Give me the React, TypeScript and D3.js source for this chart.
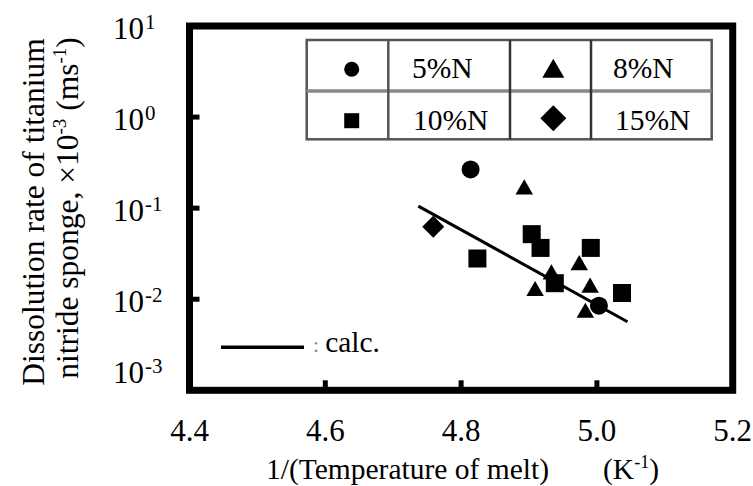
import React from "react";
import * as d3 from "d3";

// values
const seriesNames = ["5%N", "8%N", "10%N", "15%N"];
const n5x = [4.814, 5.003];
const n5y = [0.266, 0.00849];
const n8x = [4.893, 4.974, 4.933, 4.909, 4.99, 4.983];
const n8y = [0.171, 0.0252, 0.02, 0.0131, 0.0143, 0.00757];
const n10x = [4.824, 4.904, 4.917, 4.991, 4.938, 5.037];
const n10y = [0.028, 0.0518, 0.0366, 0.0366, 0.015, 0.0117];
const n15x = [4.759];
const n15y = [0.0624];
const calcX = [4.737, 5.045];
const calcY = [0.1051, 0.00566];
const xTicks = [4.4, 4.6, 4.8, 5.0, 5.2];
const yTickExp = [1, 0, -1, -2, -3];

const W = 753, H = 486;
const FONT = "'Liberation Serif', 'Times New Roman', serif";
const box = { left: 189.5, right: 732.7, top: 26, bottom: 390.3 };

// marker shape for each series: plot width and legend width
const shapes = [
  { type: d3.symbolCircle, w: 18, lw: 15 },
  { type: d3.symbolTriangle, w: 17.5, lw: 22 },
  { type: d3.symbolSquare, w: 18, lw: 15 },
  { type: d3.symbolSquare, w: 22, lw: 26, rot: true },
];

function symbolPath(i: number, w: number) {
  const s = shapes[i];
  let size;
  if (s.type === d3.symbolCircle) size = Math.PI * (w / 2) * (w / 2);
  else if (s.type === d3.symbolTriangle) size = (w * w * Math.sqrt(3)) / 4;
  else if (s.rot) size = (w / Math.SQRT2) * (w / Math.SQRT2);
  else size = w * w;
  return d3.symbol().type(s.type).size(size)() as string;
}

function Marker({ i, cx, cy, w }: { i: number; cx: number; cy: number; w: number }) {
  const s = shapes[i];
  // triangle: move centroid so the box centre sits on the point
  const dy = s.type === d3.symbolTriangle ? w / (4 * Math.sqrt(3)) : 0;
  const rot = s.rot ? " rotate(45)" : "";
  return <path d={symbolPath(i, w)} transform={`translate(${cx},${cy + dy})${rot}`} fill="#000" />;
}

export default function App() {
  const x = d3.scaleLinear().domain([4.4, 5.2]).range([box.left, box.right]);
  const y = d3.scaleLog().domain([1e-3, 10]).range([box.bottom, box.top]);

  const series = [
    { xs: n5x, ys: n5y },
    { xs: n8x, ys: n8y },
    { xs: n10x, ys: n10y },
    { xs: n15x, ys: n15y },
  ];

  const calcLine = d3
    .line<number>()
    .x((d) => x(d))
    .y((d, i) => y(calcY[i]))(calcX) as string;

  // legend table
  const lg = { x0: 306.7, x1: 388.3, x2: 510, x3: 591, x4: 711.7, y0: 40, y1: 91, y2: 139.3 };
  const legendCells = [
    { mx: 351.7, my: 69.3, tx: 412, ty: 78 },
    { mx: 553.3, my: 68.3, tx: 613, ty: 78 },
    { mx: 351.7, my: 120.7, tx: 413, ty: 130 },
    { mx: 553.3, my: 118.3, tx: 615, ty: 130 },
  ];

  return (
    <svg width={W} height={H} style={{ position: "absolute", left: 0, top: 0, background: "#fff" }} fontFamily={FONT}>
      <rect x={0} y={0} width={W} height={H} fill="#fff" />

      {/* calc line */}
      <path d={calcLine} stroke="#000" strokeWidth={3} fill="none" />

      {/* data markers */}
      {series.map((s, i) =>
        s.xs.map((v, j) => <Marker key={`${i}-${j}`} i={i} cx={x(v)} cy={y(s.ys[j])} w={shapes[i].w} />)
      )}

      {/* frame */}
      <rect
        x={box.left}
        y={box.top}
        width={box.right - box.left}
        height={box.bottom - box.top}
        fill="none"
        stroke="#000"
        strokeWidth={7}
      />

      {/* x ticks and labels */}
      {xTicks.map((v, i) => (
        <g key={"xt" + i}>
          {i > 0 && i < xTicks.length - 1 && (
            <line x1={x(v)} x2={x(v)} y1={box.bottom} y2={box.bottom - 10} stroke="#000" strokeWidth={5} />
          )}
          <text x={x(v)} y={441} fontSize={31} textAnchor="middle" fill="#000">
            {v.toFixed(1)}
          </text>
        </g>
      ))}

      {/* y ticks and labels */}
      {yTickExp.map((e, i) => {
        const yy = y(Math.pow(10, e));
        const base = e === -3 ? yy - 7 : yy + 13;
        return (
          <g key={"yt" + i}>
            {i > 0 && i < yTickExp.length - 1 && (
              <line x1={box.left} x2={box.left + 10} y1={yy} y2={yy} stroke="#000" strokeWidth={5} />
            )}
            <text x={113} y={base} fontSize={31} fill="#000">
              10
              <tspan fontSize={21} dy={-10} dx={1}>
                {e < 0 ? "-" + Math.abs(e) : String(e)}
              </tspan>
            </text>
          </g>
        );
      })}

      {/* legend table */}
      <g stroke="#555" strokeWidth={2.5} fill="none">
        <rect x={lg.x0} y={lg.y0} width={lg.x4 - lg.x0} height={lg.y2 - lg.y0} />
        <line x1={lg.x0} x2={lg.x4} y1={lg.y1} y2={lg.y1} stroke="#888" strokeWidth={3.5} />
        <line x1={lg.x1} x2={lg.x1} y1={lg.y0} y2={lg.y2} />
        <line x1={lg.x2} x2={lg.x2} y1={lg.y0} y2={lg.y2} stroke="#333" />
        <line x1={lg.x3} x2={lg.x3} y1={lg.y0} y2={lg.y2} stroke="#333" />
      </g>
      {seriesNames.map((name, i) => (
        <g key={"lg" + i}>
          <Marker i={i} cx={legendCells[i].mx} cy={legendCells[i].my} w={shapes[i].lw} />
          <text x={legendCells[i].tx} y={legendCells[i].ty} fontSize={29.5} fill="#000">
            {name}
          </text>
        </g>
      ))}

      {/* calc legend */}
      <line x1={221} x2={304} y1={347.3} y2={347.3} stroke="#000" strokeWidth={3.5} />
      <text x={313} y={352} fontSize={29.5} fill="#000">
        <tspan fill="#888" fontSize={22}>:</tspan>
        <tspan dx={6}>calc.</tspan>
      </text>

      {/* x axis title */}
      <text x={266} y={479} fontSize={29.5} fill="#000">
        1/(Temperature of melt)
      </text>
      <text x={603} y={479} fontSize={29.5} fill="#000">
        (K<tspan fontSize={18} dy={-11}>-1</tspan>
        <tspan dy={11}>)</tspan>
      </text>

      {/* y axis title */}
      <text transform="translate(44,212) rotate(-90)" fontSize={31.5} textAnchor="middle" fill="#000">
        Dissolution rate of titanium
      </text>
      <text transform="translate(78,208) rotate(-90)" fontSize={31.5} textAnchor="middle" fill="#000">
        nitride sponge, ×10<tspan fontSize={19} dy={-12}>-3</tspan>
        <tspan dy={12}> (ms</tspan>
        <tspan fontSize={19} dy={-12}>-1</tspan>
        <tspan dy={12}>)</tspan>
      </text>
    </svg>
  );
}
